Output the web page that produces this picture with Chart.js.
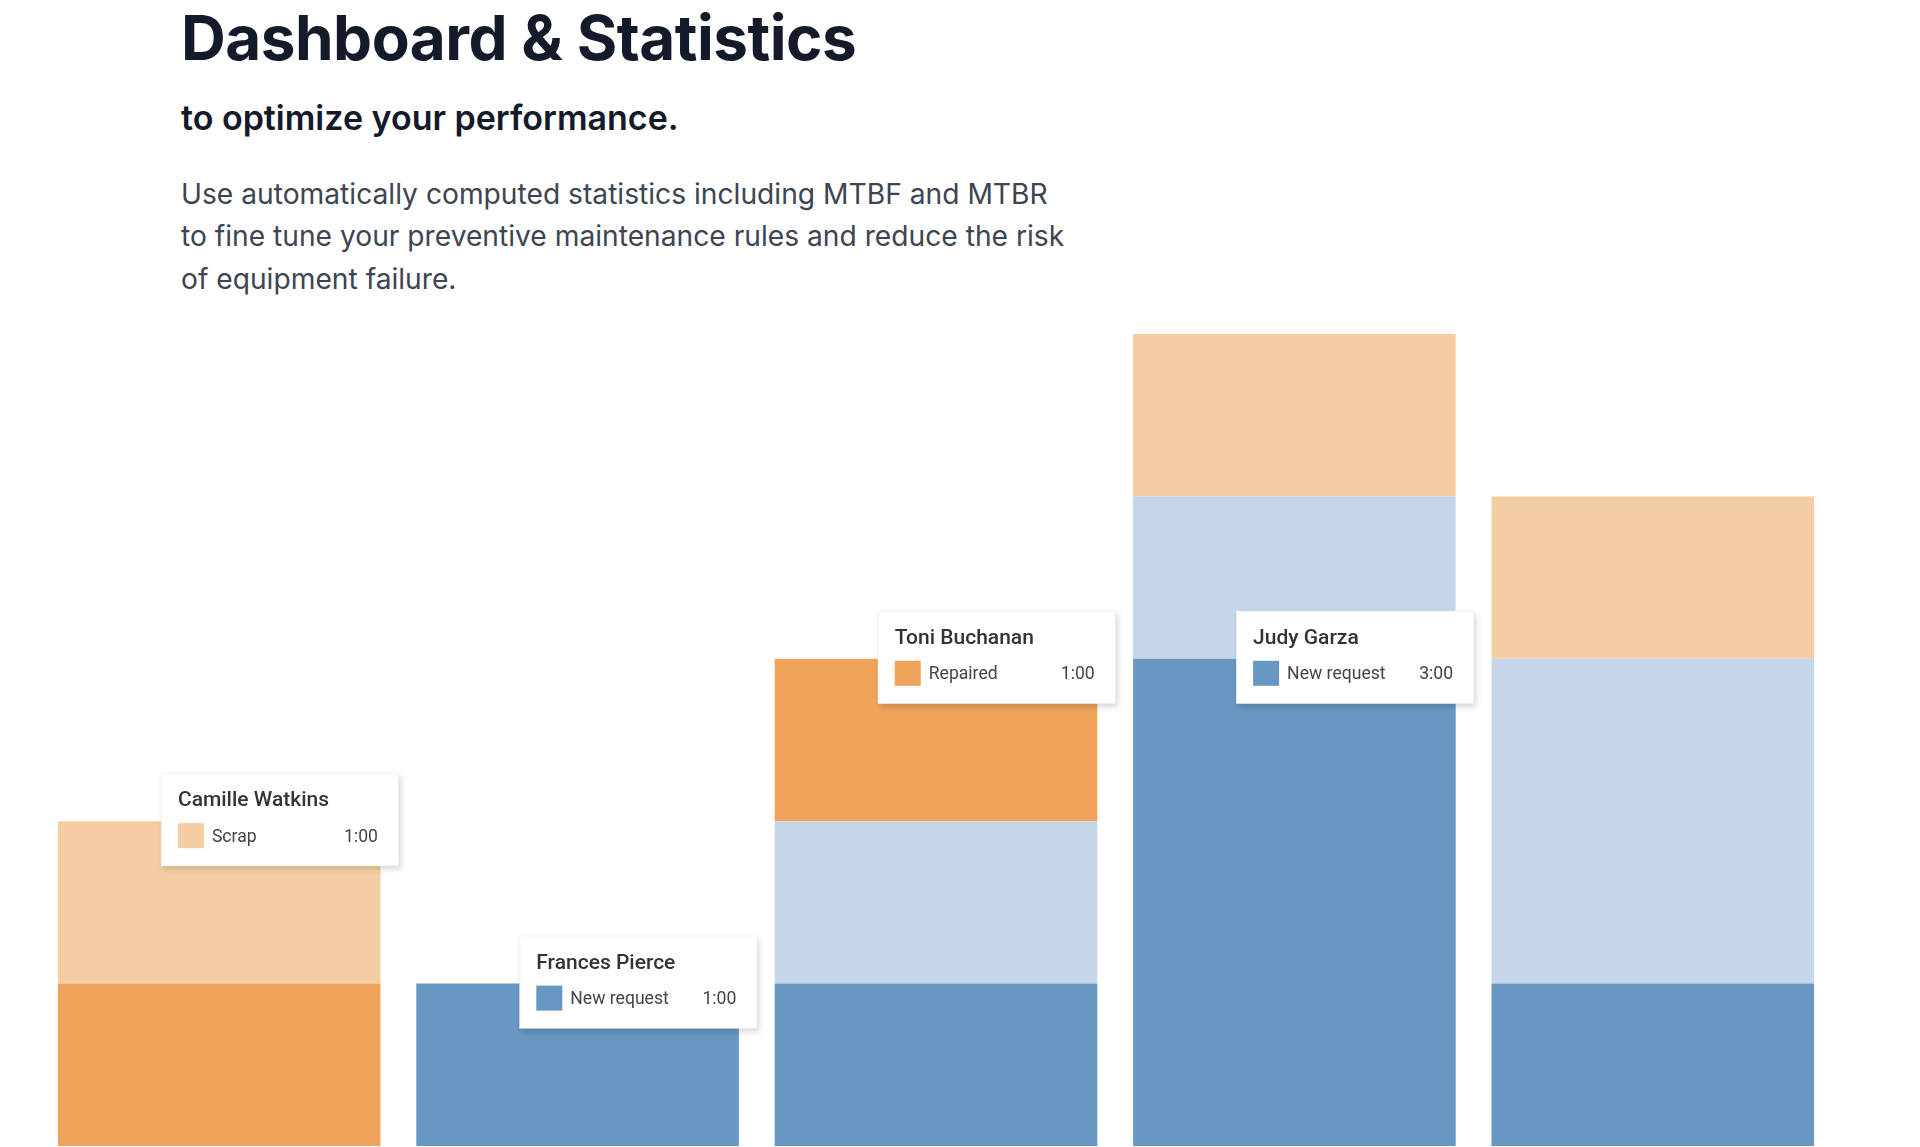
<!DOCTYPE html>
<html>
<head>
<meta charset="utf-8">
<script src="https://cdn.jsdelivr.net/npm/chart.js@4"></script>
<style>
  html, body { margin: 0; padding: 0; background: #ffffff; }
  body { width: 1920px; height: 1147px; position: relative; overflow: hidden; font-family: Inter, "Noto Sans", sans-serif; }
  #title { position: absolute; left: 181px; top: 7px; margin: 0; font-size: 62px; line-height: 62px; font-weight: 700; color: #131a2a; letter-spacing: -0.5px; white-space: nowrap; }
  #subtitle { position: absolute; left: 181px; top: 100.5px; margin: 0; font-size: 34px; line-height: 34px; font-weight: 600; color: #131a2a; white-space: nowrap; }
  #desc { position: absolute; left: 181px; top: 172.5px; margin: 0; font-size: 28.2px; line-height: 42.5px; font-weight: 400; color: #3d4452; width: 1000px; }
  #wrap { position: absolute; left: 40px; top: 334px; width: 1792px; height: 812px; }
</style>
</head>
<body>
<h1 id="title">Dashboard &amp; Statistics</h1>
<h2 id="subtitle">to optimize your performance.</h2>
<p id="desc">Use automatically computed statistics including MTBF and MTBR<br>to fine tune your preventive maintenance rules and reduce the risk<br>of equipment failure.</p>
<div id="wrap"><canvas id="c"></canvas></div>
<script>
// ---- data ----
const technicians = ["Camille Watkins", "Frances Pierce", "Toni Buchanan", "Judy Garza", "Marcus Reid"];
const seriesNames = ["New request", "In progress", "Repaired", "Scrap"];
const newRequest = [0, 1, 1, 3, 1];
const inProgress = [0, 0, 1, 1, 2];
const repaired   = [1, 0, 1, 0, 0];
const scrap      = [1, 0, 0, 1, 1];
const seriesColors = ["#6897c3", "#c5d5ea", "#f0a35b", "#f5cda2"];
// tooltips shown: [category index, series index]
const shownTips = [[0, 3], [1, 0], [2, 2], [3, 0]];

const seriesValues = [newRequest, inProgress, repaired, scrap];

const tipPlugin = {
  id: 'staticTips',
  afterDatasetsDraw(chart) {
    const ctx = chart.ctx;
    shownTips.forEach(([ci, si]) => {
      const el = chart.getDatasetMeta(si).data[ci];
      const props = el.getProps(['x', 'y', 'width'], true);
      const bw = 238, bh = 93;
      const bx = props.x - props.width / 2 + 103;
      const by = props.y - 48;
      ctx.save();
      ctx.shadowColor = 'rgba(0,0,0,0.16)';
      ctx.shadowBlur = 6;
      ctx.shadowOffsetX = 2;
      ctx.shadowOffsetY = 3;
      ctx.fillStyle = '#ffffff';
      ctx.fillRect(bx, by, bw, bh);
      ctx.restore();
      ctx.save();
      ctx.strokeStyle = 'rgba(0,0,0,0.05)';
      ctx.lineWidth = 1;
      ctx.strokeRect(bx + 0.5, by + 0.5, bw - 1, bh - 1);
      ctx.textBaseline = 'middle';
      ctx.fillStyle = '#333333';
      ctx.font = '500 21px Roboto';
      ctx.textAlign = 'left';
      ctx.fillText(technicians[ci], bx + 17, by + 28);
      ctx.fillStyle = seriesColors[si];
      ctx.fillRect(bx + 17, by + 50, 26, 25);
      ctx.fillStyle = '#444444';
      ctx.font = '400 17.6px Roboto';
      ctx.fillText(seriesNames[si], bx + 51, by + 64);
      ctx.textAlign = 'right';
      ctx.fillText(seriesValues[si][ci] + ':00', bx + bw - 21, by + 64);
      ctx.restore();
    });
  }
};

new Chart(document.getElementById('c'), {
  type: 'bar',
  data: {
    labels: technicians,
    datasets: seriesNames.map((name, i) => ({
      label: name,
      data: seriesValues[i],
      backgroundColor: seriesColors[i],
      borderWidth: 0,
      categoryPercentage: 0.9,
      barPercentage: 1.0
    }))
  },
  options: {
    responsive: true,
    maintainAspectRatio: false,
    animation: false,
    layout: { padding: 0 },
    plugins: { legend: { display: false }, tooltip: { enabled: false } },
    scales: {
      x: { stacked: true, display: false, grid: { display: false } },
      y: { stacked: true, display: false, min: 0, max: 5, grid: { display: false } }
    }
  },
  plugins: [tipPlugin]
});
</script>
</body>
</html>
